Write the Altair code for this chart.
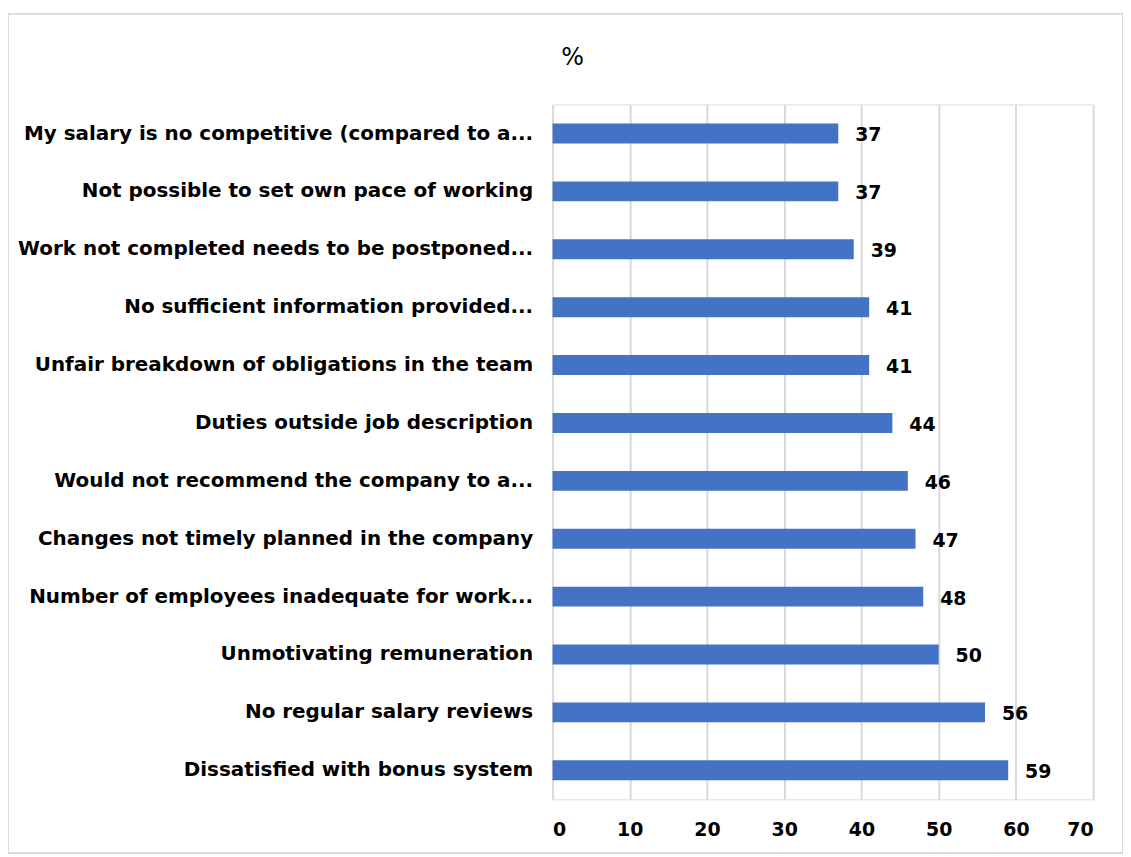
import altair as alt
import pandas as pd

categories = [
    "My salary is no competitive (compared to a...",
    "Not possible to set own pace of working",
    "Work not completed needs to be postponed...",
    "No sufficient information provided...",
    "Unfair breakdown of obligations in the team",
    "Duties outside job description",
    "Would not recommend the company to a...",
    "Changes not timely planned in the company",
    "Number of employees inadequate for work...",
    "Unmotivating remuneration",
    "No regular salary reviews",
    "Dissatisfied with bonus system",
]
values = [37, 37, 39, 41, 41, 44, 46, 47, 48, 50, 56, 59]
x_ticks = [0, 10, 20, 30, 40, 50, 60, 70]

df = pd.DataFrame({"cat": categories, "val": values})
FONT = "DejaVu Sans"

y_enc = alt.Y("cat:N", sort=categories, title=None,
              scale=alt.Scale(paddingInner=0.656, paddingOuter=0.33),
              axis=alt.Axis(labelFont=FONT, labelFontWeight="bold", labelFontSize=20,
                            labelColor="#000000", labelPadding=20, ticks=False, domain=False,
                            labelLimit=560))
x_enc = alt.X("val:Q", title=None, scale=alt.Scale(domain=[0, 70], nice=False),
              axis=alt.Axis(values=x_ticks, labelFont=FONT, labelFontWeight="bold",
                            labelFontSize=19, labelColor="#000000", labelPadding=21,
                            ticks=False, domain=False, grid=True, gridColor="#d9d9d9",
                            gridWidth=2))

bars = alt.Chart(df).mark_bar(color="#4472C4").encode(x=x_enc, y=y_enc)
labels = alt.Chart(df).mark_text(align="left", baseline="middle", dx=17, dy=2,
                                 font=FONT, fontWeight="bold", fontSize=19,
                                 color="#000000").encode(
    x="val:Q", y=alt.Y("cat:N", sort=categories), text="val:Q")

title = alt.Chart(pd.DataFrame({"t": ["%"]})).mark_text(
    font=FONT, fontSize=24, color="#000000", align="center", baseline="middle").encode(
    text="t:N", x=alt.value(20), y=alt.value(-47))

border = alt.Chart(pd.DataFrame({"a": [0]})).mark_rect(
    fill=None, stroke="#d9d9d9", strokeWidth=2).encode(
    x=alt.value(-547), x2=alt.value(573), y=alt.value(-91), y2=alt.value(752))

chart = alt.layer(border, bars, labels, title).properties(
    width=543, height=698,
    autosize=alt.AutoSizeParams(type="none"),
    padding={"left": 547, "top": 95, "right": 30, "bottom": 55},
).configure_view(stroke=None).configure(background="white")

chart.save("out.html", embed_options={"renderer": "svg", "actions": False})
